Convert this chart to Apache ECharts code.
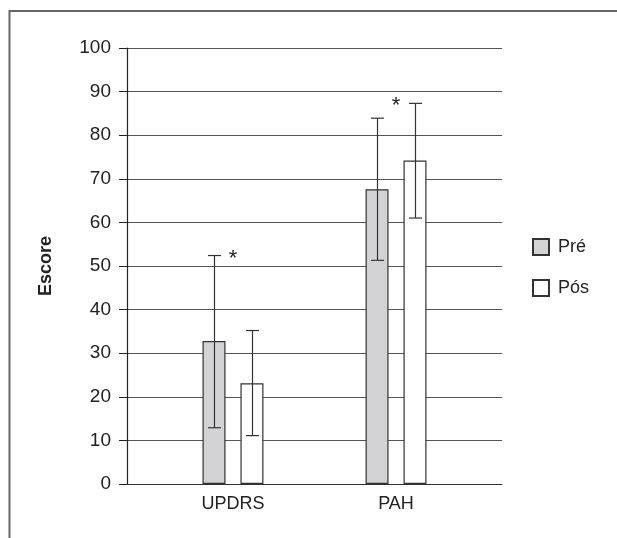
<!DOCTYPE html>
<html>
<head>
<meta charset="utf-8">
<script src="https://cdn.jsdelivr.net/npm/echarts@6/dist/echarts.min.js"></script>
<style>html,body{margin:0;padding:0;background:#fff}#c{width:617px;height:538px}</style>
</head>
<body>
<div id="c"></div>
<script>
// ---- data ----
const categories = ['UPDRS', 'PAH'];
const seriesNames = ['Pré', 'Pós'];
const preValues = [32.8, 67.6];
const posValues = [23.1, 74.2];
const preLow = [12.9, 51.3];
const preHigh = [52.4, 83.9];
const posLow = [11.1, 61.0];
const posHigh = [35.2, 87.3];
const asteriskValues = [53, 88];
const yTicks = [0, 10, 20, 30, 40, 50, 60, 70, 80, 90, 100];

// ---- styles ----
const FONT = '"Liberation Sans Narrow", "Liberation Sans", Arial, sans-serif';
const BAR_W = 23;
const OFFSET = 19; // px offset of each bar from the group centre
const CAP = 13;
const INK = '#333';

const chart = echarts.init(document.getElementById('c'));

function errSeries(name, low, high, dir) {
  return {
    type: 'custom',
    name: name + '_err',
    silent: true,
    z: 5,
    data: categories.map((c, i) => [i, low[i], high[i]]),
    renderItem: function (params, api) {
      const x = api.value(0);
      const lo = api.coord([x, api.value(1)]);
      const hi = api.coord([x, api.value(2)]);
      const cx = Math.round(lo[0] + dir * OFFSET) + 0.5;
      const st = { stroke: INK, lineWidth: 1.2 };
      return {
        type: 'group',
        children: [
          { type: 'line', shape: { x1: cx, y1: lo[1], x2: cx, y2: hi[1] }, style: st },
          { type: 'line', shape: { x1: cx - CAP / 2, y1: lo[1], x2: cx + CAP / 2, y2: lo[1] }, style: st },
          { type: 'line', shape: { x1: cx - CAP / 2, y1: hi[1], x2: cx + CAP / 2, y2: hi[1] }, style: st }
        ]
      };
    }
  };
}

const option = {
  animation: false,
  backgroundColor: '#fff',
  grid: { left: 127, top: 48, width: 375, height: 436 },
  graphic: [{
    type: 'polyline',
    shape: { points: [[9.5, 540], [9.5, 11], [620, 11]] },
    style: { stroke: '#666', lineWidth: 2, fill: null }
  }],
  legend: {
    orient: 'vertical',
    left: 532,
    top: 238,
    padding: 0,
    itemWidth: 16,
    itemHeight: 16,
    itemGap: 23,
    icon: 'rect',
    data: seriesNames,
    textStyle: { fontFamily: FONT, fontSize: 18, color: '#222', padding: [0, 0, 0, 4] }
  },
  xAxis: {
    type: 'value',
    min: -0.65,
    max: 1.65,
    interval: 0.05,
    splitLine: { show: false },
    axisTick: { show: false },
    axisLine: { show: true, onZero: false, lineStyle: { color: INK, width: 1.2 } },
    axisLabel: {
      show: true,
      margin: 11,
      fontFamily: FONT,
      fontSize: 18,
      color: '#222',
      showMinLabel: false,
      showMaxLabel: false,
      formatter: function (v) {
        for (let i = 0; i < categories.length; i++) {
          if (Math.abs(v - i) < 1e-6) return categories[i];
        }
        return '';
      }
    }
  },
  yAxis: {
    type: 'value',
    min: yTicks[0],
    max: yTicks[yTicks.length - 1],
    interval: yTicks[1] - yTicks[0],
    name: 'Escore',
    nameLocation: 'middle',
    nameGap: 72,
    nameTextStyle: { fontFamily: FONT, fontSize: 18, fontWeight: 'bold', color: '#222' },
    axisLine: { show: true, onZero: false, lineStyle: { color: '#222', width: 1.2 } },
    axisTick: { show: true, length: 8, inside: false, lineStyle: { color: '#222' } },
    axisLabel: { margin: 16, fontFamily: FONT, fontSize: 19, color: '#222' },
    splitLine: { show: true, lineStyle: { color: '#555', width: 1.2 } }
  },
  series: [
    {
      name: seriesNames[0],
      type: 'bar',
      barWidth: BAR_W,
      barGap: '65%',
      z: 3,
      itemStyle: { color: '#d3d3d6', borderColor: INK, borderWidth: 1.2 },
      data: categories.map((c, i) => [i, preValues[i]])
    },
    {
      name: seriesNames[1],
      type: 'bar',
      barWidth: BAR_W,
      barGap: '65%',
      z: 3,
      itemStyle: { color: '#ffffff', borderColor: INK, borderWidth: 1.2 },
      data: categories.map((c, i) => [i, posValues[i]])
    },
    errSeries('pre', preLow, preHigh, -1),
    errSeries('pos', posLow, posHigh, 1),
    {
      type: 'custom',
      name: 'asterisk',
      silent: true,
      z: 6,
      data: categories.map((c, i) => [i, asteriskValues[i]]),
      renderItem: function (params, api) {
        const p = api.coord([api.value(0), api.value(1)]);
        return {
          type: 'text',
          x: p[0],
          y: p[1] + 6,
          style: { text: '*', fontFamily: FONT, fontSize: 22, fill: '#222', align: 'center', verticalAlign: 'middle' }
        };
      }
    }
  ]
};
chart.setOption(option);
</script>
</body>
</html>
